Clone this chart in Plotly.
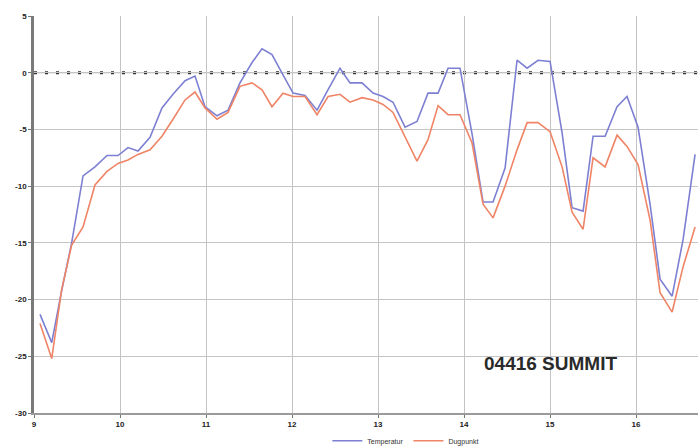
import plotly.graph_objects as go

days = [9.070, 9.206, 9.322, 9.438, 9.570, 9.709, 9.849, 9.977, 10.093, 10.209,
        10.349, 10.488, 10.616, 10.756, 10.872, 10.988, 11.128, 11.256, 11.395, 11.535,
        11.651, 11.767, 11.895, 12.012, 12.151, 12.291, 12.419, 12.558, 12.674, 12.814,
        12.942, 13.058, 13.174, 13.314, 13.453, 13.581, 13.698, 13.814, 13.953, 14.093,
        14.221, 14.337, 14.477, 14.616, 14.733, 14.860, 15.000, 15.140, 15.256, 15.384,
        15.500, 15.640, 15.779, 15.895, 16.023, 16.163, 16.279, 16.419, 16.547, 16.686]

temperatur = [-21.3, -23.8, -19.2, -15.0, -9.1, -8.3, -7.3, -7.3, -6.6, -6.9,
              -5.7, -3.1, -1.9, -0.7, -0.3, -3.0, -3.8, -3.3, -0.9, 0.9,
              2.1, 1.6, -0.2, -1.8, -2.0, -3.3, -1.5, 0.4, -0.9, -0.9,
              -1.8, -2.1, -2.6, -4.8, -4.3, -1.8, -1.8, 0.4, 0.4, -5.4,
              -11.4, -11.4, -8.4, 1.1, 0.4, 1.1, 1.0, -5.3, -11.9, -12.2,
              -5.6, -5.6, -3.0, -2.1, -4.8, -11.6, -18.2, -19.7, -14.7, -7.2]

dugpunkt = [-22.1, -25.2, -19.1, -15.2, -13.6, -9.9, -8.7, -8.0, -7.7, -7.2,
            -6.8, -5.6, -4.1, -2.4, -1.7, -3.1, -4.1, -3.5, -1.2, -0.9,
            -1.5, -3.0, -1.8, -2.1, -2.1, -3.7, -2.1, -1.9, -2.6, -2.2,
            -2.4, -2.8, -3.5, -5.6, -7.8, -5.9, -2.9, -3.7, -3.7, -6.2,
            -11.6, -12.8, -10.0, -6.8, -4.4, -4.4, -5.2, -8.3, -12.3, -13.8,
            -7.5, -8.3, -5.5, -6.5, -8.1, -13.0, -19.4, -21.1, -17.1, -13.6]

x_ticks = [9, 10, 11, 12, 13, 14, 15, 16]
y_ticks = [5, 0, -5, -10, -15, -20, -25, -30]
station_label = "04416 SUMMIT"

fig = go.Figure()
fig.add_trace(go.Scatter(x=days, y=temperatur, mode="lines", name="Temperatur",
                         line=dict(color="#7d80d2", width=1.6)))
fig.add_trace(go.Scatter(x=days, y=dugpunkt, mode="lines", name="Dugpunkt",
                         line=dict(color="#ef8466", width=1.6)))

# zero reference line: thin grey line with dark dots
fig.add_hline(y=0, line=dict(color="#9a9a9a", width=1), layer="below")
fig.add_hline(y=0, line=dict(color="#333333", width=3, dash="3px,8px"), layer="below")

fig.add_annotation(x=15.0, y=-25.6, xref="x", yref="y", text=f"<b>{station_label}</b>",
                   showarrow=False, xanchor="center", yanchor="middle",
                   font=dict(family="Liberation Sans, Arial", size=19, color="#2a2a2a"))

fig.update_layout(
    width=698, height=448,
    margin=dict(l=34, r=0, t=16, b=35, autoexpand=False),
    paper_bgcolor="white", plot_bgcolor="white",
    showlegend=True,
    legend=dict(orientation="h", x=0.56, y=-0.07, xanchor="center", yanchor="middle",
                font=dict(family="Liberation Sans, Arial", size=7, color="#333333"),
                bgcolor="rgba(0,0,0,0)", itemwidth=30, tracegroupgap=0),
    font=dict(family="Liberation Sans, Arial", size=8, color="#222222"),
)
fig.update_xaxes(range=[9, 16.72], tickvals=x_ticks, ticktext=[f"<b>{v}</b>" for v in x_ticks],
                 automargin=False,
                 showgrid=True, gridcolor="#c4c4c4", gridwidth=1,
                 showline=True, linecolor="#9a9a9a", linewidth=1.5,
                 ticks="outside", ticklen=3, tickcolor="#777777",
                 tickfont=dict(size=8, color="#222222"), zeroline=False)
fig.update_yaxes(range=[-30, 5], tickvals=y_ticks, ticktext=[f"<b>{v}</b>" for v in y_ticks],
                 automargin=False,
                 showgrid=True, gridcolor="#c4c4c4", gridwidth=1,
                 showline=True, linecolor="#7a7a7a", linewidth=2.5,
                 ticks="outside", ticklen=3, tickcolor="#777777",
                 tickfont=dict(size=8, color="#222222"), zeroline=False)

fig.write_html("out.html", config={"displayModeBar": False},
               post_script="document.body.style.margin='0';document.body.style.overflow='hidden';")
